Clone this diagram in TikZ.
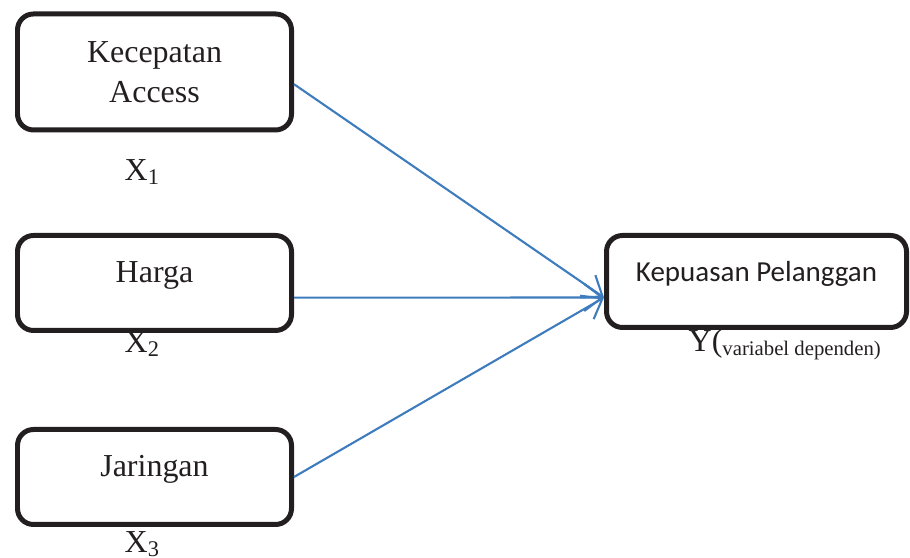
\documentclass[tikz,border=0pt]{standalone}
\usepackage{fontspec}
\setmainfont{Liberation Serif}
\newfontfamily\boxsans{Carlito}
\usetikzlibrary{arrows.meta}
\definecolor{arrowblue}{RGB}{62,124,190}
\definecolor{boxline}{RGB}{35,31,32}
\tikzset{
	varbox/.style={draw=boxline,line width=1.42pt,rounded corners=0.16cm,inner sep=0pt,minimum width=2.74cm,align=center,text=boxline,font=\fontsize{9.1}{11.4}\selectfont},
	onebox/.style={varbox,text height=0.3cm,text depth=0.3cm},
	path/.style={draw=arrowblue,line width=0.6pt,-{Straight Barb[length=0.18cm,width=0.27cm]}},
	xlabel/.style={anchor=base west,inner sep=0pt,text=boxline,font=\fontsize{9.1}{11}\selectfont}
}
\begin{document}
\begin{tikzpicture}
	\useasboundingbox (0,0) rectangle (9.1,5.58);
	
	%Independent variables
	\node[varbox,minimum height=1.16cm] at (1.545,4.86) (kec) {Kecepatan\\Access};
	\node[onebox,minimum height=0.95cm] at (1.545,2.75) (har) {Harga};
	\node[onebox,minimum height=0.95cm] at (1.545,0.81) (jar) {Jaringan};
	\node[xlabel] at (1.24,3.77) (x1) {X\textsubscript{1}};
	\node[xlabel] at (1.24,2.05) (x2) {X\textsubscript{2}};
	\node[xlabel] at (1.24,0.05) (x3) {X\textsubscript{3}};
	
	%Dependent variable
	\node[onebox,minimum width=3.0cm,minimum height=0.92cm,font=\boxsans\fontsize{8.25}{10}\selectfont] at (7.565,2.765) (kep) {Kepuasan Pelanggan};
	\node[xlabel] at (6.88,2.06) (y) {Y(\raisebox{-0.25ex}{\fontsize{5.9}{7}\selectfont variabel dependen)}};
	
	%Paths
	\draw[path] (kec.-5) -- (kep.186);
	\draw[path] (har.-6) -- (kep.186);
	\draw[path] (jar.east) -- (kep.186);
	
\end{tikzpicture}
\end{document}
